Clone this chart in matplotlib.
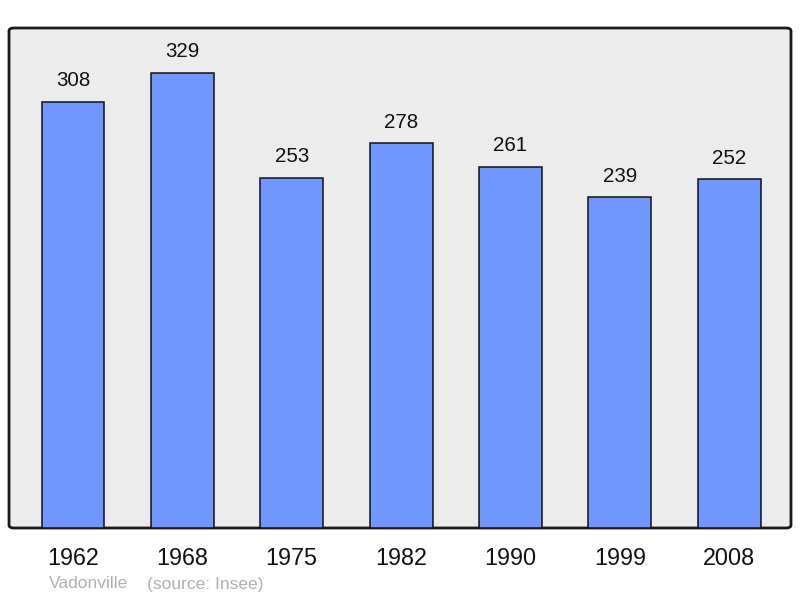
import matplotlib.pyplot as plt
from matplotlib.patches import FancyBboxPatch

years = ["1962", "1968", "1975", "1982", "1990", "1999", "2008"]
population = [308, 329, 253, 278, 261, 239, 252]

plt.rcParams['font.family'] = ['Liberation Sans', 'DejaVu Sans']

fig = plt.figure(figsize=(8, 5.98), dpi=100)
ax = fig.add_axes([9 / 800, 70 / 598, 782 / 800, 500 / 598])
ax.set_facecolor('none')

# fond gris avec coins arrondis
frame = FancyBboxPatch((0, 0), 1, 1, boxstyle="round,pad=0,rounding_size=0.006",
                       transform=ax.transAxes, facecolor='#ececec',
                       edgecolor='#1a1a1a', linewidth=2, zorder=0, clip_on=False)
ax.add_patch(frame)

x = range(len(years))
bars = ax.bar(x, population, width=0.575, color='#7096ff',
              edgecolor='#111111', linewidth=1.1, zorder=2)

for xi, v in zip(x, population):
    ax.annotate(str(v), (xi, v), xytext=(0, 8.5), textcoords='offset points',
                ha='center', va='bottom', fontsize=14.8, color='#111111')

ax.set_xlim(-0.585, 6.565)
ax.set_ylim(0, 361.5)
ax.set_xticks(list(x))
ax.set_xticklabels(years, fontsize=16.8, color='#111111')
ax.tick_params(axis='x', length=0, pad=14)
ax.set_yticks([])
for s in ax.spines.values():
    s.set_visible(False)

fig.text(49 / 800, 1 - 584 / 598, "Vadonville", fontsize=12.5, color='#b0b0b0',
         ha='left', va='center')
fig.text(147 / 800, 1 - 584 / 598, "(source: Insee)", fontsize=12.5, color='#b0b0b0',
         ha='left', va='center')

fig.savefig('out.png', dpi=100)
